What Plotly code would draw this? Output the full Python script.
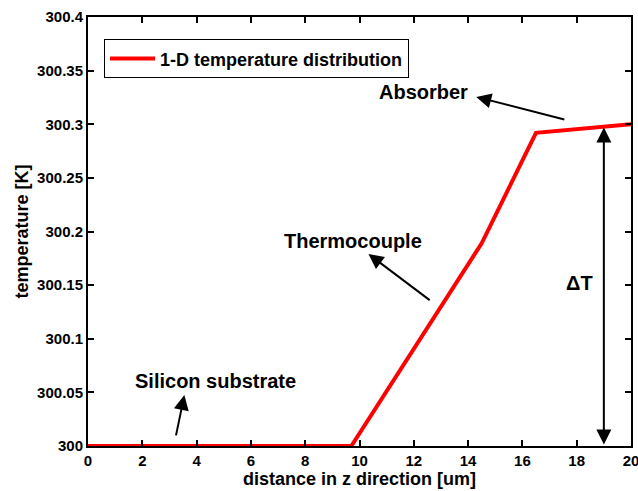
import plotly.graph_objects as go

# 1-D temperature profile along z
z_um = [0, 9.7, 14.5, 16.5, 20]
temp_K = [300.0, 300.0, 300.189, 300.292, 300.3]

x_ticks = [0, 2, 4, 6, 8, 10, 12, 14, 16, 18, 20]
y_ticks = [300, 300.05, 300.1, 300.15, 300.2, 300.25, 300.3, 300.35, 300.4]
y_tick_text = ["300", "300.05", "300.1", "300.15", "300.2", "300.25", "300.3", "300.35", "300.4"]

FONT = "Arial, Liberation Sans, sans-serif"

fig = go.Figure()
fig.add_trace(go.Scatter(
    x=z_um, y=temp_K, mode="lines",
    line=dict(color="#ff0000", width=4),
    name="1-D temperature distribution",
))

axis_common = dict(
    showline=True, linecolor="black", linewidth=2, mirror="ticks",
    ticks="inside", ticklen=6, tickwidth=2, tickcolor="black",
    showgrid=False, zeroline=False, automargin=False,
    ticklabeloverflow="allow",
    tickfont=dict(family=FONT, size=15, color="black", weight="bold"),
)

fig.update_xaxes(
    range=[0, 20], tickvals=x_ticks,
    title=dict(text="distance in z direction [um]", standoff=4,
               font=dict(family=FONT, size=18, color="black", weight="bold")),
    **axis_common,
)
fig.update_yaxes(
    range=[300, 300.4], tickvals=y_ticks, ticktext=y_tick_text,
    title=dict(text="temperature [K]", standoff=4,
               font=dict(family=FONT, size=18, color="black", weight="bold")),
    **axis_common,
)

ann_font = dict(family=FONT, size=20, color="black", weight="bold")

def pointer(head, tail):
    return dict(x=head[0], y=head[1], ax=tail[0], ay=tail[1],
                xref="x", yref="y", axref="x", ayref="y",
                text="", showarrow=True, arrowhead=2, arrowsize=1.5,
                arrowwidth=2, arrowcolor="black")

annotations = [
    dict(x=12.34, y=300.330, xref="x", yref="y", text="Absorber",
         showarrow=False, font=ann_font),
    pointer((14.3, 300.3255), (17.6, 300.304)),
    dict(x=9.76, y=300.191, xref="x", yref="y", text="Thermocouple",
         showarrow=False, font=ann_font),
    pointer((10.33, 300.179), (12.64, 300.135)),
    dict(x=4.69, y=300.0606, xref="x", yref="y", text="Silicon substrate",
         showarrow=False, font=ann_font),
    pointer((3.55, 300.0475), (3.23, 300.0085)),
    dict(x=18.12, y=300.152, xref="x", yref="y", text="ΔT",
         showarrow=False, font=dict(family=FONT, size=20, color="black", weight="bold")),
    dict(x=19, y=300.297, ax=19, ay=300.0, xref="x", yref="y", axref="x", ayref="y",
         text="", showarrow=True, arrowhead=2, startarrowhead=2, arrowside="end+start",
         arrowsize=1.5, startarrowsize=1.5, arrowwidth=2, arrowcolor="black"),
]

fig.update_layout(
    width=638, height=491,
    margin=dict(l=88, r=7, t=17, b=45),
    paper_bgcolor="white", plot_bgcolor="white",
    showlegend=True,
    legend=dict(
        x=0.0295, y=0.948, xanchor="left", yanchor="top",
        bordercolor="black", borderwidth=1, bgcolor="white",
        font=dict(family=FONT, size=18, color="black", weight="bold"),
        itemwidth=45,
    ),
    annotations=annotations,
)

fig.write_html("out.html")
